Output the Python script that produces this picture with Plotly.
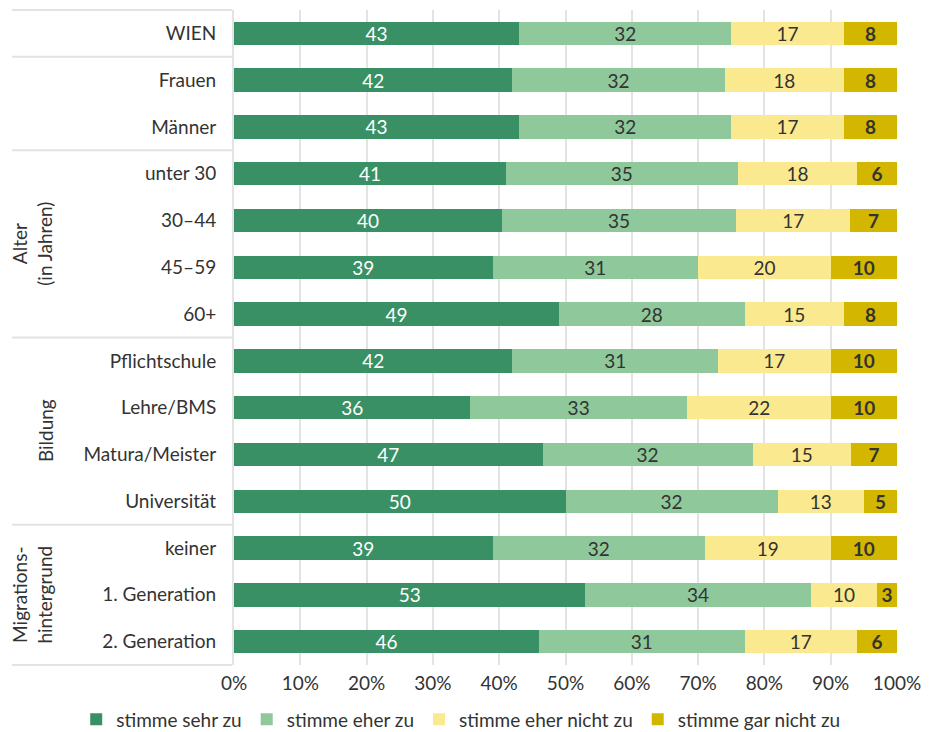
import plotly.graph_objects as go

# Survey responses (percent) per population group
categories = ["WIEN", "Frauen", "Männer", "unter 30", "30–44", "45–59", "60+",
              "Pflichtschule", "Lehre/BMS", "Matura/Meister", "Universität",
              "keiner", "1. Generation", "2. Generation"]
sehr_zu = [43, 42, 43, 41, 40, 39, 49, 42, 36, 47, 50, 39, 53, 46]
eher_zu = [32, 32, 32, 35, 35, 31, 28, 31, 33, 32, 32, 32, 34, 31]
eher_nicht_zu = [17, 18, 17, 18, 17, 20, 15, 17, 22, 15, 13, 19, 10, 17]
gar_nicht_zu = [8, 8, 8, 6, 7, 10, 8, 10, 10, 7, 5, 10, 3, 6]

series_names = ["stimme sehr zu", "stimme eher zu", "stimme eher nicht zu", "stimme gar nicht zu"]
series_values = [sehr_zu, eher_zu, eher_nicht_zu, gar_nicht_zu]
colors = ["#3a9065", "#8ec89b", "#fbe98f", "#d3b600"]
text_colors = ["#ffffff", "#333333", "#333333", "#333333"]
text_templates = ["%{text}", "%{text}", "%{text}", "<b>%{text}</b>"]

# Group brackets: label, first row, last row
groups = [("Alter<br>(in Jahren)", 3, 6), ("Bildung", 7, 10), ("Migrations-<br>hintergrund", 11, 13)]
separator_rows = [0, 1, 3, 7, 11]  # rows whose top edge carries a separator line

FONT = "Lato, 'Open Sans', sans-serif"
FS = 19

fig = go.Figure()
for name, vals, col, tcol, tt in zip(series_names, series_values, colors, text_colors, text_templates):
    fig.add_trace(go.Bar(
        y=categories, x=vals, name=name, orientation="h",
        marker=dict(color=col, line=dict(width=0)),
        text=vals, texttemplate=tt, textposition="inside",
        insidetextanchor="middle", textangle=0,
        textfont=dict(color=tcol, size=FS, family=FONT),
        hoverinfo="skip",
    ))

n = len(categories)
row_h = 1.0 / n
shapes = []
x0p, x1p = -0.335, -0.003
for r in separator_rows:
    yy = 1 - r * row_h
    shapes.append(dict(type="line", xref="paper", yref="paper", x0=x0p, x1=x1p, y0=yy, y1=yy,
                       line=dict(color="#e3e3e3", width=2)))
shapes.append(dict(type="line", xref="paper", yref="paper", x0=x0p, x1=x1p, y0=0, y1=0,
                   line=dict(color="#e3e3e3", width=2)))

annotations = []
group_x = {"Bildung": -0.285}
for label, a, b in groups:
    yc = 1 - ((a + b + 1) / 2) * row_h
    annotations.append(dict(text=label, xref="paper", yref="paper",
                            x=group_x.get(label, -0.305), y=yc, textangle=-90,
                            showarrow=False, xanchor="center", yanchor="middle",
                            font=dict(size=FS, color="#333333", family=FONT)))

fig.update_layout(
    barmode="stack", barnorm="percent", bargap=0.5,
    width=934, height=732,
    margin=dict(l=234, r=37, t=10, b=67, autoexpand=False),
    plot_bgcolor="white", paper_bgcolor="white",
    font=dict(family=FONT, size=FS, color="#333333"),
    shapes=shapes, annotations=annotations,
    uniformtext=dict(minsize=FS, mode="show"),
    legend=dict(orientation="h", x=-0.238, xanchor="left", y=-0.112, yanchor="bottom",
                font=dict(size=FS, family=FONT, color="#333333"),
                traceorder="normal", itemwidth=30),
    showlegend=True,
)
fig.update_xaxes(range=[0, 100], tickvals=list(range(0, 101, 10)),
                 ticktext=[f"{v}%" for v in range(0, 101, 10)],
                 showgrid=True, gridcolor="#e3e3e3", gridwidth=2,
                 zeroline=False, tickfont=dict(size=FS), ticklabelstandoff=5,
                 fixedrange=True)
fig.update_yaxes(categoryorder="array", categoryarray=categories, autorange="reversed",
                 showline=True, linecolor="#e3e3e3", linewidth=2,
                 ticklabelstandoff=12, tickfont=dict(size=FS), fixedrange=True)

fig.write_html("out.html")
